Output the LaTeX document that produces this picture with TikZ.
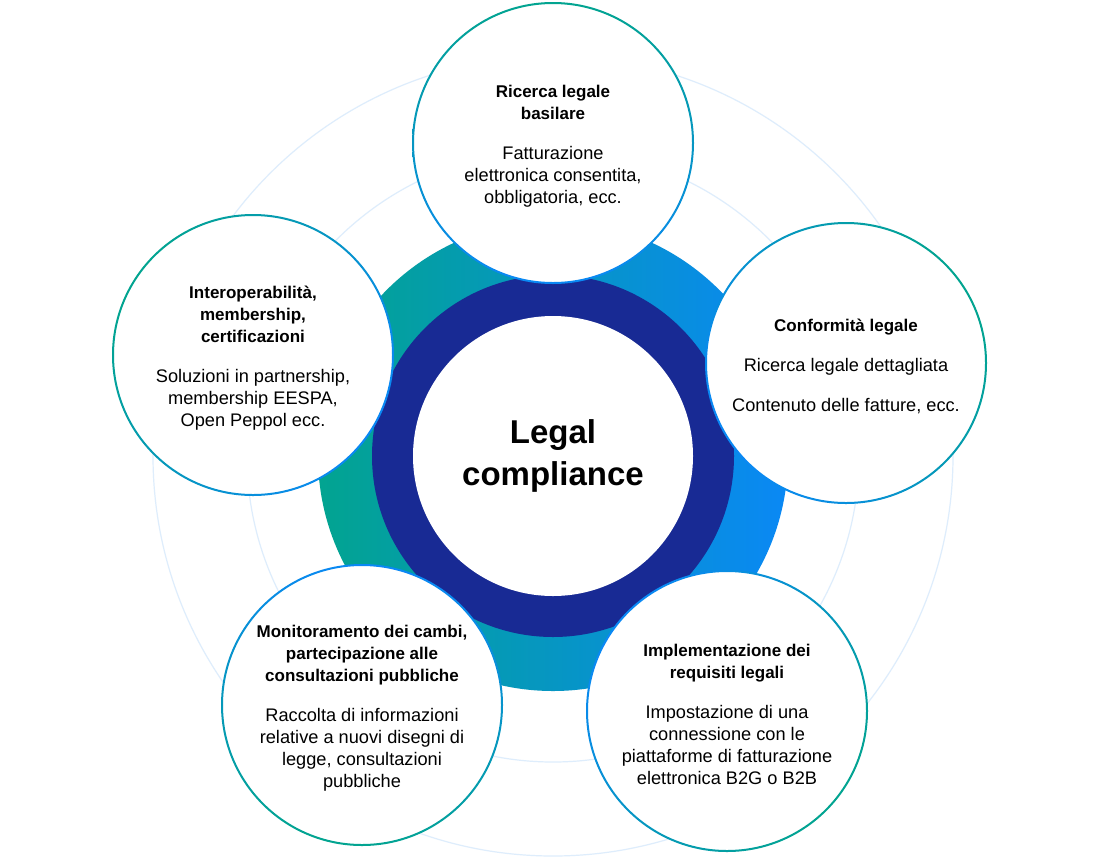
\documentclass[tikz,border=0pt]{standalone}
\usepackage{fontspec}
\setmainfont{Liberation Sans}
\definecolor{tealc}{RGB}{2,164,144}
\definecolor{bluec}{RGB}{10,136,245}
\definecolor{navyc}{RGB}{24,42,148}
\definecolor{faintc}{RGB}{222,237,252}
\begin{document}
\begin{tikzpicture}[x=1pt,y=-1pt,
  faintline/.style={draw=faintc, line width=1.2pt},
  sat/.style={circle, fill=white, minimum size=280pt, inner sep=0pt},
  sattext/.style={align=center, inner sep=0pt, yshift=-3.5pt,
    font=\fontsize{18.2}{22}\selectfont},
  core/.style={circle, fill=white, minimum size=280pt, inner sep=0pt, align=center,
    font=\fontsize{33}{42}\selectfont\bfseries}]
\newcommand{\tl}[1]{{\fontsize{17}{22}\selectfont\bfseries #1}}
\newcommand{\satring}[2]{\shade[top color=tealc, bottom color=bluec, shading angle=#2, even odd rule] (#1.center) circle (141pt) circle (139pt);}
\useasboundingbox (0,0) rectangle (1100,860);
\fill[white] (0,0) rectangle (1100,860);
\coordinate (c) at (553,456);
\draw[faintline] (c) circle (400pt);
\draw[faintline] (c) circle (306pt);
\shade[left color=tealc, right color=bluec] (c) circle (235pt);
\fill[navyc] (c) circle (181pt);
\node[core] (center) at (c) {Legal\\compliance};

\node[sat] (top) at (553,143) {};
\satring{top}{0}
\node[sattext] (toptext) at (top) {\tl{Ricerca legale}\\\tl{basilare}\\[18pt]Fatturazione\\elettronica consentita,\\obbligatoria, ecc.};

\node[sat] (left) at (253,355) {};
\satring{left}{60}
\node[sattext] (lefttext) at (left) {\tl{Interoperabilità,}\\\tl{membership,}\\\tl{certificazioni}\\[18pt]Soluzioni in partnership,\\membership EESPA,\\Open Peppol ecc.};

\node[sat] (right) at (846,363) {};
\satring{right}{-60}
\node[sattext] (righttext) at (right) {\tl{Conformità legale}\\[18pt]Ricerca legale dettagliata\\[18pt]Contenuto delle fatture, ecc.};

\node[sat] (bl) at (362,705) {};
\satring{bl}{170}
\node[sattext] (bltext) at (bl) {\tl{Monitoramento dei cambi,}\\\tl{partecipazione alle}\\\tl{consultazioni pubbliche}\\[18pt]Raccolta di informazioni\\relative a nuovi disegni di\\legge, consultazioni\\pubbliche};

\node[sat] (br) at (727,711) {};
\satring{br}{-130}
\node[sattext] (brtext) at (br) {\tl{Implementazione dei}\\\tl{requisiti legali}\\[18pt]Impostazione di una\\connessione con le\\piattaforme di fatturazione\\elettronica B2G o B2B};
\end{tikzpicture}
\end{document}
